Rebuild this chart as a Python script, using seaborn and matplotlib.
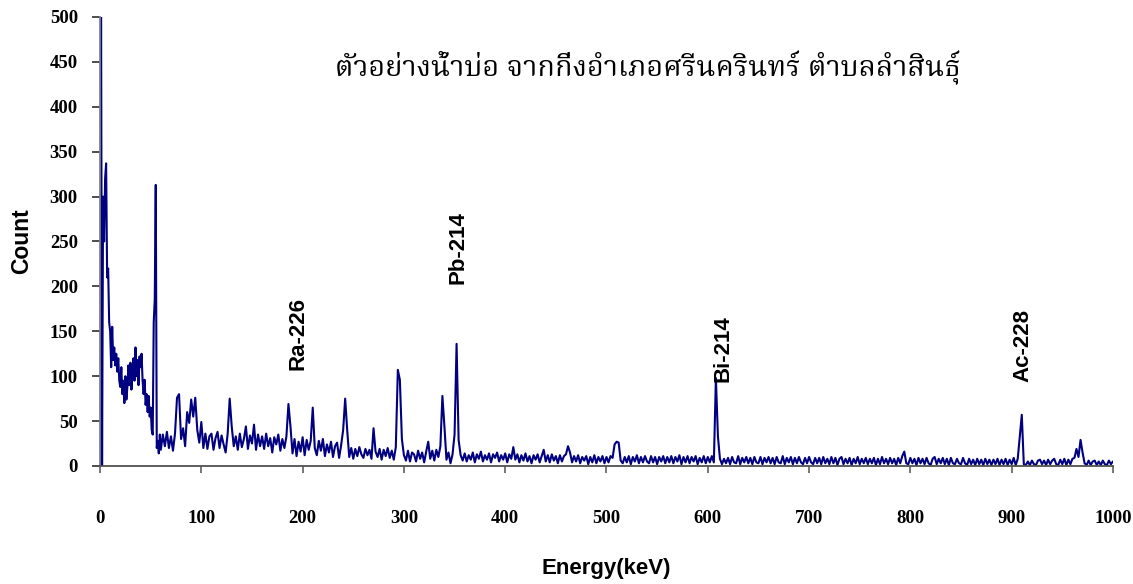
import numpy as np
import pandas as pd
import seaborn as sns
import matplotlib.pyplot as plt
from matplotlib import font_manager
from matplotlib.ft2font import FT2Font

# counts: 1 keV channels from 0 to 59 keV
counts_low = [0, 520, 0, 300, 250, 320, 337, 210, 220, 160,
              150, 110, 155, 118, 132, 112, 125, 105, 120, 95,
              88, 110, 80, 95, 70, 100, 74, 88, 112, 90,
              115, 85, 105, 120, 95, 132, 100, 118, 90, 122,
              110, 125, 95, 80, 96, 68, 80, 60, 78, 55,
              65, 40, 35, 160, 185, 313, 20, 28, 14, 35]

# counts in 2 keV steps from 60 to 1000 keV (one row = 50 keV)
counts_high = [
    18, 35, 22, 38, 20, 33, 17, 36, 76, 80, 30, 42, 22, 60, 48, 74, 55, 76, 40, 26, 49, 20, 36, 19, 33,
    36, 18, 31, 38, 20, 34, 24, 15, 36, 75, 44, 22, 33, 18, 36, 21, 30, 44, 19, 34, 25, 46, 18, 35, 22,
    33, 19, 36, 22, 31, 15, 32, 24, 35, 17, 30, 20, 33, 69, 44, 14, 30, 11, 27, 16, 32, 12, 29, 18, 28,
    65, 20, 12, 28, 17, 30, 11, 24, 15, 27, 10, 22, 26, 9, 23, 40, 75, 40, 10, 20, 8, 19, 11, 21, 13,
    9, 19, 12, 18, 8, 42, 16, 10, 19, 7, 18, 11, 20, 9, 17, 7, 21, 107, 96, 30, 12, 6, 17, 5, 15,
    13, 5, 17, 8, 15, 4, 16, 27, 8, 17, 6, 18, 10, 22, 78, 44, 7, 15, 3, 13, 35, 136, 29, 12, 6,
    14, 5, 12, 7, 15, 4, 13, 8, 16, 5, 12, 7, 14, 4, 13, 9, 15, 5, 12, 7, 14, 4, 13, 8, 21,
    7, 13, 4, 12, 6, 14, 5, 11, 3, 12, 7, 13, 4, 11, 18, 5, 12, 4, 13, 6, 11, 3, 12, 5, 11,
    13, 22, 15, 4, 11, 5, 12, 3, 10, 6, 11, 2, 10, 4, 12, 3, 10, 5, 11, 3, 10, 4, 11, 9, 24,
    27, 26, 6, 3, 10, 4, 11, 2, 10, 5, 12, 3, 10, 4, 11, 5, 3, 11, 4, 10, 2, 10, 5, 11, 3,
    10, 4, 11, 3, 10, 5, 12, 2, 10, 4, 11, 3, 10, 5, 11, 2, 9, 4, 11, 3, 10, 4, 11, 4, 98,
    33, 8, 2, 8, 3, 9, 2, 10, 4, 3, 11, 2, 9, 4, 10, 3, 9, 2, 10, 4, 3, 10, 2, 9, 4,
    10, 3, 9, 2, 10, 4, 3, 11, 2, 9, 4, 10, 2, 9, 3, 10, 4, 2, 9, 3, 10, 4, 2, 9, 3,
    9, 2, 10, 3, 8, 2, 10, 3, 9, 1, 8, 10, 2, 8, 3, 9, 1, 8, 3, 10, 2, 8, 3, 9, 2,
    8, 3, 9, 1, 8, 2, 10, 3, 8, 2, 9, 3, 8, 1, 9, 3, 11, 16, 3, 2, 9, 3, 8, 1, 9,
    3, 8, 2, 9, 3, 1, 8, 10, 2, 8, 3, 9, 2, 8, 1, 9, 3, 2, 8, 3, 2, 9, 3, 1, 8,
    2, 7, 1, 8, 2, 7, 1, 8, 2, 7, 1, 7, 2, 8, 1, 7, 2, 8, 1, 7, 2, 9, 1, 8, 33,
    57, 2, 1, 5, 1, 6, 2, 1, 6, 7, 2, 6, 1, 7, 2, 6, 8, 2, 1, 7, 2, 8, 1, 7, 2,
    8, 9, 19, 10, 29, 15, 3, 1, 6, 1, 5, 6, 1, 5, 1, 6, 2, 1, 6, 2, 5,
]

# channel energies (keV)
energy_low = np.arange(0, 60, 1)
energy_high = np.arange(60, 1001, 2)

# isotope labels and where they sit (energy, count)
peak_names = ["Ra-226", "Pb-214", "Bi-214", "Ac-228"]
peak_label_energy = [195, 353, 615, 911]
peak_label_count = [148, 243, 131, 134]

title_text = "ตัวอย่างน้ำบ่อ จากกิ่งอำเภอศรีนครินทร์ ตำบลลำสินธุ์"

spec_df = pd.DataFrame({
    "energy": np.concatenate([energy_low, energy_high]),
    "count": counts_low + counts_high,
})


def find_thai_font():
    # installed fonts with Thai glyphs, serif looking ones first
    names = []
    for f in font_manager.fontManager.ttflist:
        try:
            if FT2Font(f.fname).get_char_index(0x0E15):
                names.append(f.name)
        except Exception:
            continue
    for pref in ["Angsana New", "Norasi", "Noto Serif Thai", "TH Sarabun New",
                 "Laksaman", "Kinnari", "Garuda", "Loma"]:
        if pref in names:
            return pref
    return names[0] if names else None


sns.set_theme(style="white")
plt.rcParams["font.family"] = ["Liberation Sans", "DejaVu Sans"]
plt.rcParams["text.color"] = "black"
plt.rcParams["axes.labelcolor"] = "black"
plt.rcParams["xtick.color"] = "black"
plt.rcParams["ytick.color"] = "black"

fig = plt.figure(figsize=(11.33, 5.84), dpi=100)
ax = fig.add_axes([0.0883, 0.2021, 0.894, 0.7688])

sns.lineplot(data=spec_df, x="energy", y="count", color="#000080",
             linewidth=1.5, sort=False, ax=ax)

ax.set_xlim(0, 1000)
ax.set_ylim(0, 500)
ax.set_xticks(np.arange(0, 1001, 100))
ax.set_yticks(np.arange(0, 501, 50))

for side in ["top", "right"]:
    ax.spines[side].set_visible(False)
ax.spines["left"].set_color("#808080")
ax.spines["bottom"].set_color("#505050")
ax.spines["left"].set_linewidth(1.3)
ax.spines["bottom"].set_linewidth(1.3)

ax.tick_params(axis="y", direction="out", length=6, width=1.2, color="#303030",
               pad=10, left=True)
ax.tick_params(axis="x", direction="out", length=5, width=1.2, color="#606060",
               pad=27, bottom=True)
for lab in ax.get_xticklabels() + ax.get_yticklabels():
    lab.set_fontfamily("Liberation Serif")
    lab.set_fontweight("bold")
    lab.set_fontsize(13.5)

ax.set_xlabel("Energy(keV)", fontsize=16, fontweight="bold", labelpad=22)
ax.set_ylabel("Count", fontsize=16.5, fontweight="bold", labelpad=12)

for name, e, c in zip(peak_names, peak_label_energy, peak_label_count):
    ax.text(e, c, name, rotation=90, ha="center", va="center",
            fontsize=16, fontweight="bold")

thai_font = find_thai_font()
title_family = [thai_font, "Liberation Serif"] if thai_font else ["Liberation Serif", "DejaVu Sans"]
fig.text(0.572, 0.884, title_text, ha="center", va="center",
         fontsize=20.8, family=title_family)

fig.savefig("out.png", dpi=100)
